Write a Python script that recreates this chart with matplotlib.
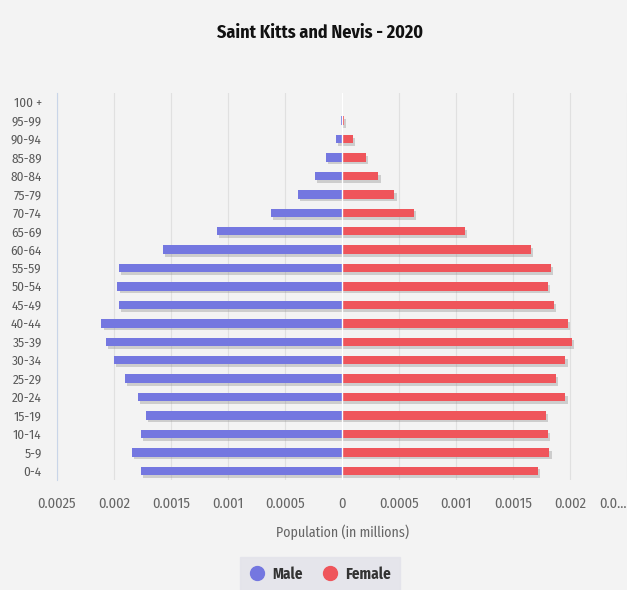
import matplotlib
matplotlib.use('Agg')
import matplotlib.pyplot as plt
import matplotlib.patheffects as pe
from matplotlib.lines import Line2D

# police condensée si elle existe, sinon on retombe sur Roboto / DejaVu
plt.rcParams['font.family'] = ['Fira Sans Condensed', 'Roboto Condensed', 'Liberation Sans Narrow',
                               'Roboto', 'DejaVu Sans']

# groupes d'age, du bas vers le haut
ages = ['0-4', '5-9', '10-14', '15-19', '20-24', '25-29', '30-34', '35-39',
        '40-44', '45-49', '50-54', '55-59', '60-64', '65-69', '70-74',
        '75-79', '80-84', '85-89', '90-94', '95-99', '100 +']

# population en millions
male = [0.00176, 0.00184, 0.00176, 0.00172, 0.00179, 0.00190, 0.00200,
        0.00207, 0.00211, 0.00196, 0.00197, 0.00196, 0.00157, 0.00110,
        0.00062, 0.00039, 0.00024, 0.00014, 0.00005, 0.00001, 0.0]
female = [0.00172, 0.00182, 0.00181, 0.00179, 0.00196, 0.00188, 0.00196,
          0.00202, 0.00198, 0.00186, 0.00181, 0.00183, 0.00166, 0.00108,
          0.00063, 0.00046, 0.00032, 0.00021, 0.00010, 0.00002, 0.0]

ticks = [-0.0025, -0.002, -0.0015, -0.001, -0.0005, 0, 0.0005, 0.001, 0.0015, 0.002, 0.0025]
tick_labels = ['0.0025', '0.002', '0.0015', '0.001', '0.0005', '0',
               '0.0005', '0.001', '0.0015', '0.002', '0.0\u2026']

male_color = '#7477e0'
female_color = '#ef555b'
bg = '#f3f3f3'

fig = plt.figure(figsize=(6.27, 5.9), dpi=100, facecolor=bg)
ax = fig.add_axes([57 / 627, 1 - 480 / 590, 1 - 57 / 627, (480 - 93) / 590])
ax.set_facecolor(bg)

y = list(range(len(ages)))
shadow = [pe.SimplePatchShadow(offset=(1.5, -2), shadow_rgbFace='#888888', alpha=0.35), pe.Normal()]
ax.barh(y, [-v for v in male], height=0.45, color=male_color, path_effects=shadow, zorder=3)
ax.barh(y, female, height=0.45, color=female_color, path_effects=shadow, zorder=3)

ax.set_xlim(-0.0025, 0.0025)
ax.set_ylim(-0.5, len(ages) - 0.5)
ax.set_yticks(y)
ax.set_yticklabels(ages)
ax.set_xticks(ticks)
ax.set_xticklabels(tick_labels)
ax.get_xticklabels()[-1].set_horizontalalignment('right')

ax.tick_params(axis='x', length=0, pad=12, labelsize=10.5, labelcolor='#666666')
ax.tick_params(axis='y', length=0, pad=11, labelsize=9.5, labelcolor='#5a5a5a')

ax.grid(axis='x', color='#e0e0e0', linewidth=0.8, zorder=0)
for s in ['top', 'right', 'bottom']:
    ax.spines[s].set_visible(False)
ax.spines['left'].set_color('#c9d5e8')
ax.axvline(0, color='#ffffff', linewidth=1, zorder=4)

ax.set_xlabel('Population (in millions)', fontsize=10, color='#666666', labelpad=10)

fig.text(320 / 627, 1 - 33 / 590, 'Saint Kitts and Nevis - 2020', ha='center', va='center',
         fontsize=13, fontweight='bold', color='#111111')

handles = [Line2D([], [], marker='o', linestyle='', markersize=10, color=male_color, label='Male'),
           Line2D([], [], marker='o', linestyle='', markersize=10, color=female_color, label='Female')]
leg = fig.legend(handles=handles, loc='center', bbox_to_anchor=(320 / 627, 1 - 574 / 590), ncol=2,
                 frameon=True, fancybox=False, facecolor='#e2e2ea', edgecolor='#e2e2ea',
                 handlelength=1.0, handletextpad=0.5, columnspacing=1.3, borderpad=0.6,
                 prop={'weight': 'bold', 'size': 11})
for t in leg.get_texts():
    t.set_color('#333333')

fig.savefig('out.png', dpi=100, facecolor=bg)
